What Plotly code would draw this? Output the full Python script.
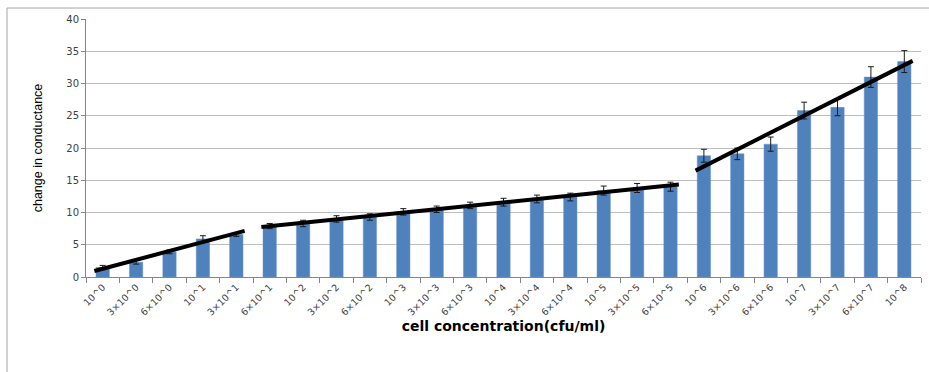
import numpy as np
import plotly.graph_objects as go

# Cell concentration categories (cfu/ml)
concentrations = [
    "10^0", "3×10^0", "6×10^0", "10^1", "3×10^1",
    "6×10^1", "10^2", "3×10^2", "6×10^2", "10^3",
    "3×10^3", "6×10^3", "10^4", "3×10^4", "6×10^4",
    "10^5", "3×10^5", "6×10^5", "10^6", "3×10^6",
    "6×10^6", "10^7", "3×10^7", "6×10^7", "10^8",
]

# Mean change in conductance per concentration
conductance = [
    1.5, 2.3, 3.9, 5.9, 6.6,
    7.9, 8.3, 9.0, 9.3, 10.1,
    10.5, 11.1, 11.6, 12.1, 12.4,
    13.4, 13.8, 14.0, 18.8, 19.1,
    20.6, 25.8, 26.3, 31.0, 33.4,
]

# Standard deviation of each measurement
conductance_err = [
    0.3, 0.3, 0.3, 0.5, 0.3,
    0.4, 0.5, 0.5, 0.5, 0.5,
    0.5, 0.5, 0.6, 0.6, 0.6,
    0.7, 0.7, 0.7, 1.0, 0.9,
    1.1, 1.3, 1.3, 1.6, 1.7,
]

# Index ranges (first, last) of the three linear regions
trend_segments = [(0, 4), (5, 17), (18, 24)]

fig = go.Figure()

fig.add_trace(go.Bar(
    x=concentrations,
    y=conductance,
    width=0.4,
    marker=dict(color="#4F81BD", line=dict(color="#6A95CA", width=0.5)),
    error_y=dict(type="data", array=conductance_err, visible=True,
                 color="#1a1a1a", thickness=1, width=3),
    showlegend=False,
    hoverinfo="x+y",
))

# Linear fit over each region, drawn on an overlaid numeric axis
idx = np.arange(len(conductance))
vals = np.array(conductance)
for first, last in trend_segments:
    xs = idx[first:last + 1]
    slope, intercept = np.polyfit(xs, vals[first:last + 1], 1)
    xe = np.array([first - 0.25, last + 0.25])
    fig.add_trace(go.Scatter(
        x=xe, y=slope * xe + intercept,
        xaxis="x2", mode="lines",
        line=dict(color="black", width=4),
        showlegend=False, hoverinfo="skip",
    ))

fig.update_layout(
    width=929, height=372,
    margin=dict(l=86, r=8, t=19, b=95),
    paper_bgcolor="white",
    plot_bgcolor="white",
    bargap=0.6,
    xaxis=dict(
        type="category",
        range=[-0.5, len(concentrations) - 0.5],
        tickangle=-45,
        tickfont=dict(family="DejaVu Sans", size=9.5, color="#404040"),
        ticks="outside", ticklen=5, tickcolor="#868686",
        tickson="boundaries",
        showline=True, linecolor="#868686", linewidth=1,
        showgrid=False,
        title=dict(text="<b>cell concentration(cfu/ml)</b>",
                   font=dict(family="DejaVu Sans", size=14, color="black"),
                   standoff=2),
    ),
    xaxis2=dict(
        overlaying="x",
        range=[-0.5, len(concentrations) - 0.5],
        visible=False,
    ),
    yaxis=dict(
        range=[0, 40], dtick=5,
        tickfont=dict(family="DejaVu Sans", size=10, color="#404040"),
        ticks="outside", ticklen=4, tickcolor="#868686",
        showline=True, linecolor="#868686", linewidth=1,
        showgrid=True, gridcolor="#BEBEBE", gridwidth=1,
        zeroline=False,
        title=dict(text="change in conductance",
                   font=dict(family="Liberation Sans Narrow, Liberation Sans", size=12.5, color="black"),
                   standoff=20),
    ),
    shapes=[
        dict(type="line", xref="paper", yref="paper",
             x0=-0.0946, x1=-0.0946, y0=1.0426, y1=-0.40,
             line=dict(color="#A6A6A6", width=1)),
        dict(type="line", xref="paper", yref="paper",
             x0=-0.0946, x1=1.02, y0=1.0426, y1=1.0426,
             line=dict(color="#A6A6A6", width=1)),
    ],
)

fig.write_html("out.html")
